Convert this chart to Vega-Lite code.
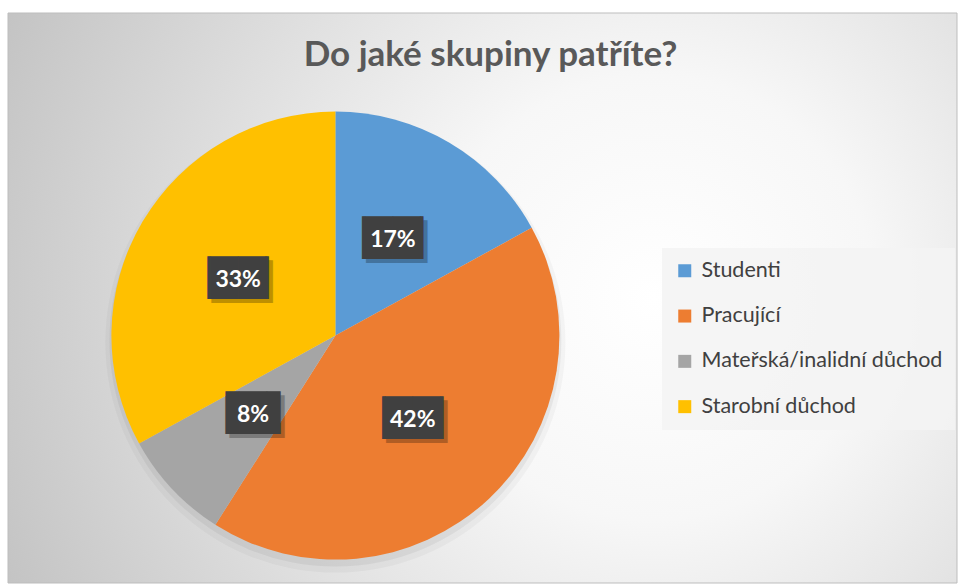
{
  "$schema": "https://vega.github.io/schema/vega-lite/v6.json",
  "width": 958,
  "height": 584,
  "autosize": {"type": "fit", "contains": "padding"},
  "padding": {"left": 7, "top": 12, "right": 0, "bottom": 0},
  "background": "white",
  "title": {
    "text": "Do jaké skupiny patříte?",
    "font": "Lato",
    "fontSize": 35,
    "fontWeight": "bold",
    "color": "#595959",
    "anchor": "middle",
    "baseline": "alphabetic",
    "offset": -88,
    "dx": 8
  },
  "datasets": {
    "answers": [
      {"category": "Studenti", "value": 0.17, "rank": 1},
      {"category": "Pracující", "value": 0.42, "rank": 2},
      {"category": "Mateřská/inalidní důchod", "value": 0.08, "rank": 3},
      {"category": "Starobní důchod", "value": 0.33, "rank": 4}
    ]
  },
  "data": {"name": "answers"},
  "layer": [
    {
      "data": {"values": [{}]},
      "mark": {
        "type": "rect",
        "stroke": "#bdbdbd",
        "strokeWidth": 1,
        "fill": {
          "gradient": "radial",
          "x1": 0.68, "y1": 0.5, "r1": 0,
          "x2": 0.68, "y2": 0.5, "r2": 0.78,
          "stops": [
            {"offset": 0, "color": "#ffffff"},
            {"offset": 0.3, "color": "#f7f7f7"},
            {"offset": 1, "color": "#c0c0c0"}
          ]
        }
      },
      "encoding": {}
    },
    {
      "data": {"values": [{}]},
      "mark": {"type": "arc", "outerRadius": 230, "fill": "#000000", "opacity": 0.03, "x": {"expr": "width*0.345"}, "y": {"expr": "height*0.566 + 7"}},
      "encoding": {}
    },
    {
      "data": {"values": [{}]},
      "mark": {"type": "arc", "outerRadius": 226, "fill": "#000000", "opacity": 0.05, "x": {"expr": "width*0.345"}, "y": {"expr": "height*0.566 + 5"}},
      "encoding": {}
    },
    {
      "mark": {"type": "arc", "outerRadius": 224, "x": {"expr": "width*0.345"}, "y": {"expr": "height*0.566"}},
      "encoding": {
        "theta": {"field": "value", "type": "quantitative", "stack": true},
        "order": {"field": "rank", "type": "quantitative"},
        "color": {
          "field": "category",
          "type": "nominal",
          "sort": ["Studenti", "Pracující", "Mateřská/inalidní důchod", "Starobní důchod"],
          "scale": {
            "domain": ["Studenti", "Pracující", "Mateřská/inalidní důchod", "Starobní důchod"],
            "range": ["#5B9BD5", "#ED7D31", "#A5A5A5", "#FFC000"]
          },
          "legend": {
            "title": null,
            "orient": "none",
            "legendX": 654,
            "legendY": 235,
            "fillColor": "rgba(243,243,243,0.85)",
            "padding": 12,
            "labelFont": "Lato",
            "labelFontSize": 21.5,
            "labelColor": "#404040",
            "labelOffset": 6,
            "labelLimit": 320,
            "rowPadding": 22.3,
            "symbolType": "square",
            "symbolSize": 169,
            "symbolStrokeWidth": 0,
            "symbolOpacity": 1
          }
        }
      }
    },
    {
      "mark": {"type": "text", "radius": 113, "font": "DejaVu Sans", "fontSize": 36, "fill": "#000000", "opacity": 0.25, "baseline": "middle", "align": "center", "dx": 4, "dy": 5, "x": {"expr": "width*0.345"}, "y": {"expr": "height*0.566"}},
      "encoding": {
        "theta": {"field": "value", "type": "quantitative", "stack": true},
        "order": {"field": "rank", "type": "quantitative"},
        "detail": {"field": "category", "type": "nominal"},
        "text": {"condition": {"test": "datum.value < 0.1", "value": "▐█▌"}, "value": "▕██▏"}
      }
    },
    {
      "mark": {"type": "text", "radius": 113, "font": "DejaVu Sans", "fontSize": 36, "fill": "#404040", "baseline": "middle", "align": "center", "dy": 1, "x": {"expr": "width*0.345"}, "y": {"expr": "height*0.566"}},
      "encoding": {
        "theta": {"field": "value", "type": "quantitative", "stack": true},
        "order": {"field": "rank", "type": "quantitative"},
        "detail": {"field": "category", "type": "nominal"},
        "text": {"condition": {"test": "datum.value < 0.1", "value": "▐█▌"}, "value": "▕██▏"}
      }
    },
    {
      "mark": {"type": "text", "radius": 113, "font": "Lato", "fontSize": 23, "fontWeight": "bold", "fill": "#ffffff", "baseline": "middle", "align": "center", "dy": 2, "x": {"expr": "width*0.345"}, "y": {"expr": "height*0.566"}},
      "encoding": {
        "theta": {"field": "value", "type": "quantitative", "stack": true},
        "order": {"field": "rank", "type": "quantitative"},
        "detail": {"field": "category", "type": "nominal"},
        "text": {"field": "value", "type": "quantitative", "format": ".0%"}
      }
    }
  ],
  "config": {"view": {"stroke": null}}
}
